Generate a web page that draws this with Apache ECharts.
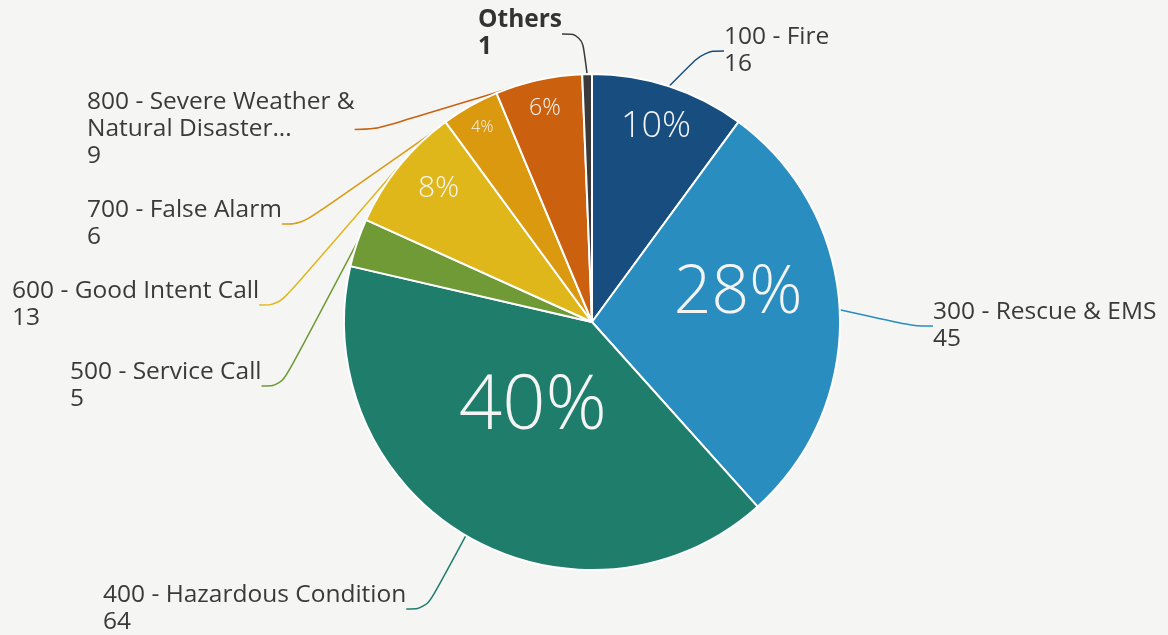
<!DOCTYPE html>
<html><head><meta charset="utf-8">
<script src="https://cdn.jsdelivr.net/npm/echarts@6/dist/echarts.min.js"></script>
<style>html,body{margin:0;padding:0;background:#f5f5f4;}#c{width:1168px;height:635px;}</style>
</head><body><div id="c"></div>
<script>
const categories = ["100 - Fire", "300 - Rescue & EMS", "400 - Hazardous Condition", "500 - Service Call", "600 - Good Intent Call", "700 - False Alarm", "800 - Severe Weather &\nNatural Disaster...", "Others"];
const values = [16, 45, 64, 5, 13, 6, 9, 1];
const colors = ["#174d7f", "#2a8dbf", "#1f7e6b", "#6f9a36", "#e0b71a", "#da990f", "#cb610e", "#3a3a3a"];

// label placement (styles)
const outerLabelPos = [[724, 24], [933, 299], [103, 582], [70, 359], [12, 278], [87, 197], [87, 89], [478, 7]];
const innerFontSize = [36, 66, 76, 0, 30, 16, 23, 0];
const innerRadiusFrac = [0.83, 0.6, 0.42, 0, 0.82, 0.9, 0.88, 0];
const innerAngleShift = [0, -8, 4, 0, 2, 0, 0, 0];

const CX = 592, CY = 322, R = 248;
const total = values.reduce((a, b) => a + b, 0);
const cum = [];
values.reduce((acc, v, i) => { cum[i] = acc; return acc + v; }, 0);

const chart = echarts.init(document.getElementById('c'));
const data1 = categories.map((n, i) => ({
  name: n, value: values[i],
  itemStyle: { color: colors[i] },
  label: i === 7 ? { fontWeight: 'bold', color: '#333' } : {}
}));
const data2 = categories.map((n, i) => ({ name: n, value: values[i] }));

chart.setOption({
  backgroundColor: '#f5f5f4',
  animation: false,
  series: [{
    type: 'pie',
    center: [CX, CY],
    radius: R,
    startAngle: 90,
    clockwise: true,
    avoidLabelOverlap: false,
    itemStyle: { borderColor: '#ffffff', borderWidth: 2 },
    label: {
      show: true,
      position: 'outside',
      fontFamily: 'Open Sans',
      fontSize: 24.5,
      lineHeight: 27,
      color: '#3a3a3a',
      formatter: p => p.name + '\n' + p.value
    },
    labelLine: { show: true, length: 20, length2: 20, smooth: 0.4, lineStyle: { width: 1.5 } },
    labelLayout: function (p) {
      const pos = outerLabelPos[p.dataIndex];
      return { x: pos[0], y: pos[1], align: 'left', verticalAlign: 'top' };
    },
    data: data1
  }, {
    type: 'pie',
    center: [CX, CY],
    radius: R,
    startAngle: 90,
    silent: true,
    itemStyle: { color: 'rgba(0,0,0,0)' },
    label: {
      show: true,
      position: 'inside',
      fontFamily: 'Open Sans',
      fontWeight: 300,
      color: '#f4f4f4',
      formatter: p => innerFontSize[p.dataIndex] ? '{a' + p.dataIndex + '|' + Math.round(p.value / total * 100) + '%}' : '',
      rich: Object.fromEntries(innerFontSize.map((s, i) => ['a' + i, { fontSize: s || 10, fontFamily: 'Open Sans', fontWeight: 300, color: '#f4f4f4' }]))
    },
    labelLine: { show: false },
    labelLayout: function (p) {
      const i = p.dataIndex;
      const mid = (cum[i] + values[i] / 2) / total * 360 + innerAngleShift[i];
      const rad = mid * Math.PI / 180;
      const r = R * innerRadiusFrac[i];
      return { x: CX + r * Math.sin(rad), y: CY - r * Math.cos(rad), align: 'center', verticalAlign: 'middle' };
    },
    data: data2
  }]
});
</script></body></html>
